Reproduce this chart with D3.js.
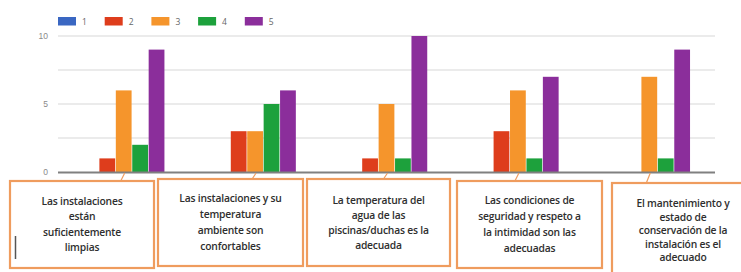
<!DOCTYPE html>
<html>
<head>
<meta charset="utf-8">
<script src="https://cdn.jsdelivr.net/npm/d3@7"></script>
<style>
	body { margin: 0; background: #fff; }
	svg { display: block; }
</style>
</head>
<body>
<script>
// data
var categories = [
	["Las instalaciones", "están", "suficientemente", "limpias"],
	["Las instalaciones y su", "temperatura", "ambiente son", "confortables"],
	["La temperatura del", "agua de las", "piscinas/duchas es la", "adecuada"],
	["Las condiciones de", "seguridad y respeto a", "la intimidad son las", "adecuadas"],
	["El mantenimiento y", "estado de", "conservación de la", "instalación es el", "adecuado"]
];
var seriesNames = ["1", "2", "3", "4", "5"];
var s1 = [0, 0, 0, 0, 0];
var s2 = [1, 3, 1, 3, 0];
var s3 = [6, 3, 5, 6, 7];
var s4 = [2, 5, 1, 1, 1];
var s5 = [9, 6, 10, 7, 9];
var yTicks = [0, 5, 10];
var gridTicks = [0, 2.5, 5, 7.5, 10];

var series = [s1, s2, s3, s4, s5];
var colors = ["#3a67c2", "#de3d1c", "#f5952c", "#1da13c", "#8b2e9b"];

// layout
var width = 741,
	height = 272,
	plotLeft = 58,
	plotRight = 715,
	plotTop = 36,
	plotBottom = 172,
	boxColor = "#ef9c5e";

// label boxes: x, y, w, h, line spacing
var boxes = [
	[10, 181, 144, 87, 15.5],
	[158, 179, 145, 87, 16.3],
	[307, 179, 143, 87, 15],
	[457, 181, 145, 87, 16],
	[612, 183, 142, 95, 13.5]
];

var svg = d3.select("body").append("svg")
	.attr("width", width)
	.attr("height", height)
	.style("font-family", "'Open Sans', sans-serif");

var x0 = d3.scaleBand()
	.domain(d3.range(categories.length))
	.range([plotLeft, plotRight])
	.paddingInner(0.38)
	.paddingOuter(0.19);

var x1 = d3.scaleBand()
	.domain(d3.range(seriesNames.length))
	.range([0, x0.bandwidth()])
	.paddingInner(0.04);

var y = d3.scaleLinear()
	.domain([0, 10])
	.range([plotBottom, plotTop]);

// gridlines
svg.append("g")
	.selectAll("line")
	.data(gridTicks.filter(function (d) { return d > 0; }))
	.enter()
	.append("line")
	.attr("x1", plotLeft)
	.attr("x2", plotRight)
	.attr("y1", function (d) { return y(d); })
	.attr("y2", function (d) { return y(d); })
	.style("stroke", "#e4e4e4")
	.style("stroke-width", "1.5px");

// y axis labels
var yAxis = d3.axisLeft(y).tickValues(yTicks).tickSize(0).tickPadding(10);
svg.append("g")
	.attr("transform", "translate(" + plotLeft + ",0)")
	.call(yAxis)
	.call(function (g) {
		g.select(".domain").remove();
		g.selectAll("text")
			.attr("fill", "#8a8a8a")
			.style("font-size", "8.5px");
	});

// bars
var groups = svg.append("g")
	.selectAll("g")
	.data(categories)
	.enter()
	.append("g")
	.attr("transform", function (d, i) { return "translate(" + x0(i) + ",0)"; });

groups.selectAll("rect")
	.data(function (d, i) {
		return series.map(function (s, k) { return { k: k, v: s[i] }; });
	})
	.enter()
	.append("rect")
	.attr("x", function (d) { return x1(d.k); })
	.attr("width", x1.bandwidth())
	.attr("y", function (d) { return y(d.v); })
	.attr("height", function (d) { return y(0) - y(d.v); })
	.style("fill", function (d) { return colors[d.k]; });

// baseline
svg.append("line")
	.attr("x1", plotLeft)
	.attr("x2", plotRight)
	.attr("y1", y(0) + 0.5)
	.attr("y2", y(0) + 0.5)
	.style("stroke", "#808080")
	.style("stroke-width", "2px");

// legend
var legend = svg.append("g")
	.selectAll("g")
	.data(seriesNames)
	.enter()
	.append("g")
	.attr("transform", function (d, i) { return "translate(" + (58 + i * 46.7) + ",17)"; });

legend.append("rect")
	.attr("width", 18)
	.attr("height", 8.5)
	.style("fill", function (d, i) { return colors[i]; });

legend.append("text")
	.text(function (d) { return d; })
	.attr("x", 24)
	.attr("y", 8)
	.attr("fill", "#666")
	.style("font-size", "8.5px");

// connectors from groups to label boxes
svg.append("g")
	.selectAll("line")
	.data(categories)
	.enter()
	.append("line")
	.attr("x1", function (d, i) { return x0(i) + x0.bandwidth() / 2 + 1; })
	.attr("y1", plotBottom + 1)
	.attr("x2", function (d, i) { return x0(i) + x0.bandwidth() / 2 - 3; })
	.attr("y2", function (d, i) { return boxes[i][1]; })
	.style("stroke", boxColor)
	.style("stroke-width", "1.2px");

// label boxes
var labelBoxes = svg.append("g")
	.selectAll("g")
	.data(categories)
	.enter()
	.append("g")
	.attr("transform", function (d, i) { return "translate(" + boxes[i][0] + "," + boxes[i][1] + ")"; });

labelBoxes.append("rect")
	.attr("width", function (d, i) { return boxes[i][2]; })
	.attr("height", function (d, i) { return boxes[i][3]; })
	.style("fill", "#fff")
	.style("stroke", boxColor)
	.style("stroke-width", "2.2px");

labelBoxes.each(function (lines, i) {
	var b = boxes[i];
	var top = b[3] / 2 - (lines.length - 1) * b[4] / 2 + 3.5;
	d3.select(this).selectAll("text")
		.data(lines)
		.enter()
		.append("text")
		.text(function (d) { return d; })
		.attr("x", b[2] / 2)
		.attr("y", function (d, j) { return top + j * b[4]; })
		.attr("text-anchor", "middle")
		.attr("fill", "#2e2e2e")
		.style("font-size", "10.3px")
		.style("font-weight", "600")
		.style("letter-spacing", "-0.2px");
});

// little text cursor left in the first box
svg.append("line")
	.attr("x1", 15.5)
	.attr("x2", 15.5)
	.attr("y1", 236)
	.attr("y2", 259)
	.style("stroke", "#555")
	.style("stroke-width", "1.5px");
</script>
</body>
</html>
